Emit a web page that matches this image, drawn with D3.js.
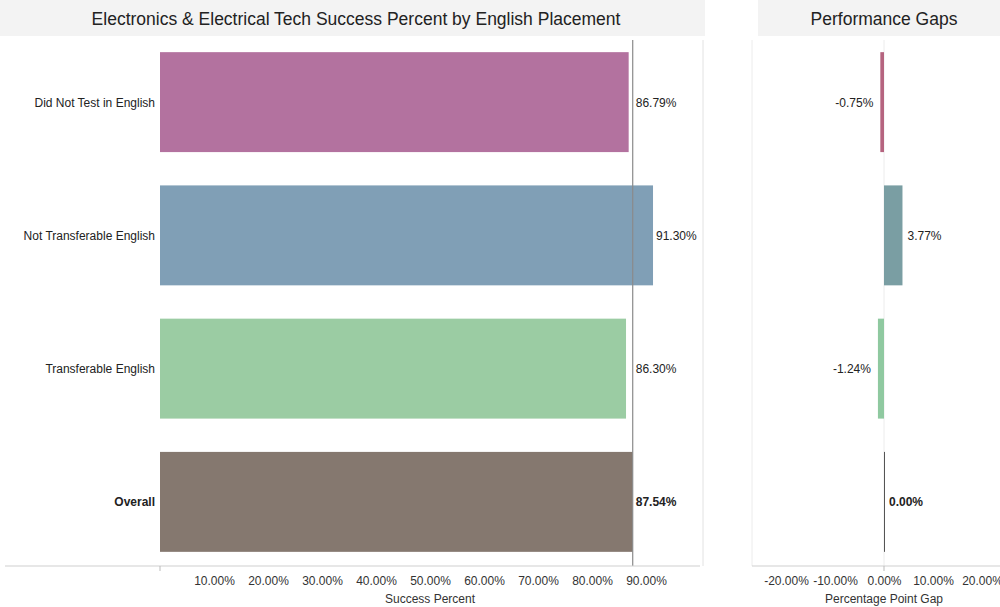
<!DOCTYPE html>
<html>
<head>
<meta charset="utf-8">
<script src="https://cdn.jsdelivr.net/npm/d3@7"></script>
<style>
  html, body { margin: 0; padding: 0; background: #fff; }
  svg { display: block; font-family: "Liberation Sans", Arial, sans-serif; }
</style>
</head>
<body>
<svg id="chart" width="1000" height="607"></svg>
<script>
// Placement groups and their course success rates
const categories = ["Did Not Test in English", "Not Transferable English", "Transferable English", "Overall"];
const successValues = [0.8679, 0.9130, 0.8630, 0.8754];
// Gap of each group against the overall rate, in percentage points
const gapValues = [-0.0075, 0.0377, -0.0124, 0.0];
const barColors = ["#b3729f", "#809fb6", "#9bcca3", "#85786f"];
const gapColors = ["#b5647f", "#7a9ea3", "#8fc9a0", "#555555"];
const successTicks = [0.1, 0.2, 0.3, 0.4, 0.5, 0.6, 0.7, 0.8, 0.9];
const gapTicks = [-0.2, -0.1, 0, 0.1, 0.2];
const overallValue = successValues[3];

const svg = d3.select("#chart");
// plain hyphen for negative numbers
const locale = d3.formatLocale({ decimal: ".", thousands: ",", grouping: [3], currency: ["$", ""], minus: "-" });
const fmt = locale.format(".2%");
const axisY = 566;
const FONT = "Liberation Sans, Arial, sans-serif";
const LABEL_SIZE = 12;

// Header bands
svg.append("rect").attr("x", 0).attr("y", 0).attr("width", 705).attr("height", 36).attr("fill", "#f3f3f3");
svg.append("rect").attr("x", 758).attr("y", 0).attr("width", 242).attr("height", 36).attr("fill", "#f3f3f3");

svg.append("text").attr("x", 356).attr("y", 25).attr("text-anchor", "middle")
  .attr("font-size", 17.5).attr("fill", "#222")
  .text("Electronics & Electrical Tech Success Percent by English Placement");
svg.append("text").attr("x", 884).attr("y", 25).attr("text-anchor", "middle")
  .attr("font-size", 17.5).attr("fill", "#222")
  .text("Performance Gaps");

const y = d3.scaleBand().domain(categories).range([35.5, 568.5]).paddingInner(0.25).paddingOuter(0.125);

// ---- Success percent panel ----
const x = d3.scaleLinear().domain([0, 1]).range([160, 700]);

// panel divider
svg.append("line").attr("x1", 703).attr("x2", 703).attr("y1", 40).attr("y2", axisY)
  .attr("stroke", "#e2e2e2");

svg.append("g").selectAll("rect").data(categories).join("rect")
  .attr("x", x(0))
  .attr("y", d => y(d))
  .attr("width", (d, i) => x(successValues[i]) - x(0))
  .attr("height", y.bandwidth())
  .attr("fill", (d, i) => barColors[i]);

// overall reference line
svg.append("line").attr("x1", x(overallValue)).attr("x2", x(overallValue))
  .attr("y1", 40).attr("y2", axisY).attr("stroke", "#8a8a8a").attr("stroke-width", 1.2);

svg.append("g").selectAll("text").data(categories).join("text")
  .attr("x", 155)
  .attr("y", d => y(d) + y.bandwidth() / 2 + 4.5)
  .attr("text-anchor", "end")
  .attr("font-size", LABEL_SIZE)
  .attr("font-weight", d => d === "Overall" ? "bold" : "normal")
  .attr("fill", "#222")
  .text(d => d);

svg.append("g").selectAll("text").data(categories).join("text")
  .attr("x", (d, i) => Math.max(x(successValues[i]), x(overallValue)) + 3)
  .attr("y", d => y(d) + y.bandwidth() / 2 + 4.5)
  .attr("font-size", LABEL_SIZE)
  .attr("font-weight", d => d === "Overall" ? "bold" : "normal")
  .attr("fill", "#222")
  .text((d, i) => fmt(successValues[i]));

const xAxis = svg.append("g").attr("transform", `translate(0,${axisY})`)
  .call(d3.axisBottom(x).tickValues(successTicks).tickFormat(fmt).tickSize(0).tickPadding(10));
xAxis.select(".domain").remove();
xAxis.selectAll("text").attr("font-size", LABEL_SIZE).attr("fill", "#333").attr("font-family", FONT);
svg.append("line").attr("x1", 5).attr("x2", 700).attr("y1", axisY).attr("y2", axisY)
  .attr("stroke", "#cfcfcf");
svg.append("line").attr("x1", x(0)).attr("x2", x(0)).attr("y1", axisY).attr("y2", axisY + 5)
  .attr("stroke", "#bbb");
svg.append("text").attr("x", x(0.5)).attr("y", 603).attr("text-anchor", "middle")
  .attr("font-size", 12).attr("fill", "#333").text("Success Percent");

// ---- Performance gap panel ----
const gx = d3.scaleLinear().domain([-0.2, 0.2]).range([786, 982]);

svg.append("line").attr("x1", 752).attr("x2", 752).attr("y1", 40).attr("y2", axisY)
  .attr("stroke", "#ececec");
svg.append("line").attr("x1", gx(0)).attr("x2", gx(0)).attr("y1", 40).attr("y2", axisY)
  .attr("stroke", "#ececec");

svg.append("g").selectAll("rect").data(categories).join("rect")
  .attr("x", (d, i) => Math.min(gx(0), gx(gapValues[i])))
  .attr("y", d => y(d))
  .attr("width", (d, i) => Math.max(1, Math.abs(gx(gapValues[i]) - gx(0))))
  .attr("height", y.bandwidth())
  .attr("fill", (d, i) => gapColors[i]);

svg.append("g").selectAll("text").data(categories).join("text")
  .attr("x", (d, i) => gapValues[i] < 0 ? gx(gapValues[i]) - 7 : gx(gapValues[i]) + 5)
  .attr("y", d => y(d) + y.bandwidth() / 2 + 4.5)
  .attr("text-anchor", (d, i) => gapValues[i] < 0 ? "end" : "start")
  .attr("font-size", LABEL_SIZE)
  .attr("font-weight", d => d === "Overall" ? "bold" : "normal")
  .attr("fill", "#222")
  .text((d, i) => fmt(gapValues[i]));

const gAxis = svg.append("g").attr("transform", `translate(0,${axisY})`)
  .call(d3.axisBottom(gx).tickValues(gapTicks).tickFormat(fmt).tickSize(0).tickPadding(10));
gAxis.select(".domain").remove();
gAxis.selectAll("text").attr("font-size", LABEL_SIZE).attr("fill", "#333").attr("font-family", FONT);
svg.append("line").attr("x1", 752).attr("x2", 1000).attr("y1", axisY).attr("y2", axisY)
  .attr("stroke", "#cfcfcf");
svg.append("line").attr("x1", gx(0)).attr("x2", gx(0)).attr("y1", axisY).attr("y2", axisY + 5)
  .attr("stroke", "#bbb");
svg.append("text").attr("x", gx(0)).attr("y", 603).attr("text-anchor", "middle")
  .attr("font-size", 12).attr("fill", "#333").text("Percentage Point Gap");
</script>
</body>
</html>
